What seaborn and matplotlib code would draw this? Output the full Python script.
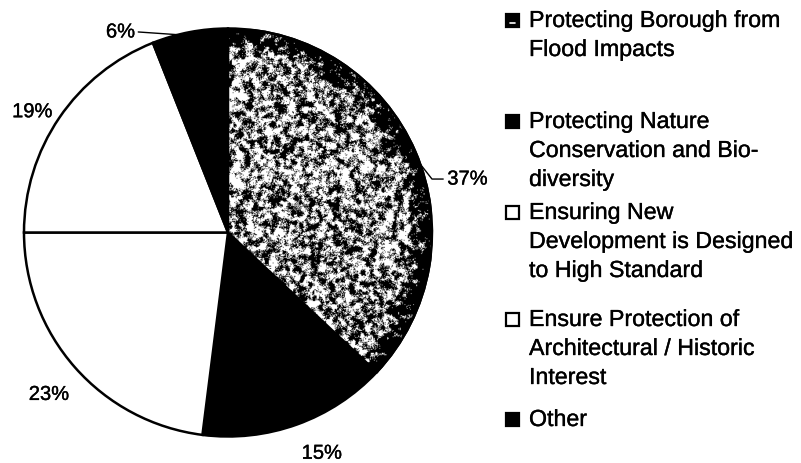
import numpy as np
import matplotlib
matplotlib.use("Agg")
import matplotlib.pyplot as plt
from matplotlib.patches import Rectangle, PathPatch
import matplotlib.patheffects as pe
import seaborn as sns

# Survey shares by priority (percent)
categories = [
    "Protecting Borough from\nFlood Impacts",
    "Protecting Nature\nConservation and Bio-\ndiversity",
    "Ensuring New\nDevelopment is Designed\nto High Standard",
    "Ensure Protection of\nArchitectural / Historic\nInterest",
    "Other",
]
shares = [37, 15, 23, 19, 6]
pct_labels = ["37%", "15%", "23%", "19%", "6%"]
face_colors = ["#808080", "black", "white", "white", "black"]

sns.set_theme(style="white")
plt.rcParams["font.family"] = ["Liberation Sans", "DejaVu Sans"]
plt.rcParams["text.color"] = "black"

W, H = 801, 464
fig = plt.figure(figsize=(W / 100, H / 100), dpi=100)
fig.patch.set_facecolor("white")
heavy = [pe.withStroke(linewidth=0.25, foreground="black")]

# pie occupies a square area on the left
cx, cy, R = 228, 233.5, 204
ax = fig.add_axes([(cx - R) / W, (H - cy - R) / H, 2 * R / W, 2 * R / H])

wedges, _ = ax.pie(
    shares, startangle=90, counterclock=False, colors=face_colors,
    radius=1.0, wedgeprops=dict(edgecolor="black", linewidth=1.8),
)
ax.set_xlim(-1, 1)
ax.set_ylim(-1, 1)
ax.set_aspect("equal")
ax.axis("off")

# speckled halftone fill for the first wedge
N = 520
rng = np.random.default_rng(11)
noise = rng.standard_normal((N, N))
fy = np.fft.fftfreq(N)[:, None]
fx = np.fft.fftfreq(N)[None, :]
sigma = 2.0
kernel = np.exp(-2 * (np.pi * sigma) ** 2 * (fx ** 2 + fy ** 2))
smooth = np.real(np.fft.ifft2(np.fft.fft2(noise) * kernel))
smooth /= smooth.std()
fine = rng.standard_normal((N, N)) * 0.8
gy, gx = np.mgrid[1:-1:N * 1j, -1:1:N * 1j]
rr = np.hypot(gx, gy)
rim = np.clip((rr - 0.88) / 0.1, 0, 1)
field = smooth + fine + 0.15 - 2.5 * rim
speckle = (field > 0).astype(float)
img = ax.imshow(speckle, cmap="gray", vmin=0, vmax=1, extent=[-1, 1, -1, 1],
                interpolation="bilinear", zorder=2)
img.set_clip_path(wedges[0])
# outline drawn above the texture
ax.add_patch(PathPatch(wedges[0].get_path(), transform=wedges[0].get_transform(),
                       fill=False, edgecolor="black", linewidth=1.8, zorder=3))

# percentage labels positioned from wedge angles
label_dist = [1.10, 1.15, 1.17, 1.16, 1.0]
label_shift = [(0.0, 0.0), (0.07, 0.0), (0.0, -0.02), (0.0, -0.06), (0.0, 0.0)]
for i, (w, txt) in enumerate(zip(wedges, pct_labels)):
    mid = np.deg2rad((w.theta1 + w.theta2) / 2)
    ux, uy = np.cos(mid), np.sin(mid)
    if i == 0:
        # leader line out to the right
        ey = 0.336
        ex = np.sqrt(1 - ey ** 2)
        ax.plot([ex, 1.0, 1.055], [ey, 0.262, 0.262],
                color="black", lw=1.0, clip_on=False, zorder=4)
        ax.text(1.075, 0.262, txt, ha="left", va="center", fontsize=14.5,
                path_effects=heavy)
    elif i == 4:
        ex = -0.245
        ey = np.sqrt(1 - ex ** 2)
        ax.plot([ex, -0.44], [ey, 0.983], color="black", lw=1.0,
                clip_on=False, zorder=4)
        ax.text(-0.455, 0.983, txt, ha="right", va="center", fontsize=14.5,
                path_effects=heavy)
    else:
        dx, dy = label_shift[i]
        ax.text(ux * label_dist[i] + dx, uy * label_dist[i] + dy, txt,
                ha="center", va="center", fontsize=14.5, path_effects=heavy)

# legend block on the right
baselines = [28, 129, 220, 327, 427]
line_step = 29
mk = 13
mx = 506
tx = 529
for i, (cat, base) in enumerate(zip(categories, baselines)):
    lines = cat.split("\n")
    for j, ln in enumerate(lines):
        fig.text(tx / W, 1 - (base + j * line_step) / H, ln, ha="left",
                 va="baseline", fontsize=16.7, color="black", path_effects=heavy)
    mcy = base - 7
    fc = "black" if face_colors[i] != "white" else "white"
    sq = Rectangle((mx / W, 1 - (mcy + mk / 2) / H), mk / W, mk / H,
                   transform=fig.transFigure, facecolor=fc,
                   edgecolor="black", linewidth=1.6)
    fig.add_artist(sq)
    if i == 0:
        fig.add_artist(plt.Line2D([(mx + 4) / W, (mx + 9) / W],
                                  [1 - (mcy + 3) / H, 1 - (mcy + 3) / H],
                                  transform=fig.transFigure, color="white",
                                  lw=1.2))

fig.savefig("out.png", dpi=100, facecolor="white")
